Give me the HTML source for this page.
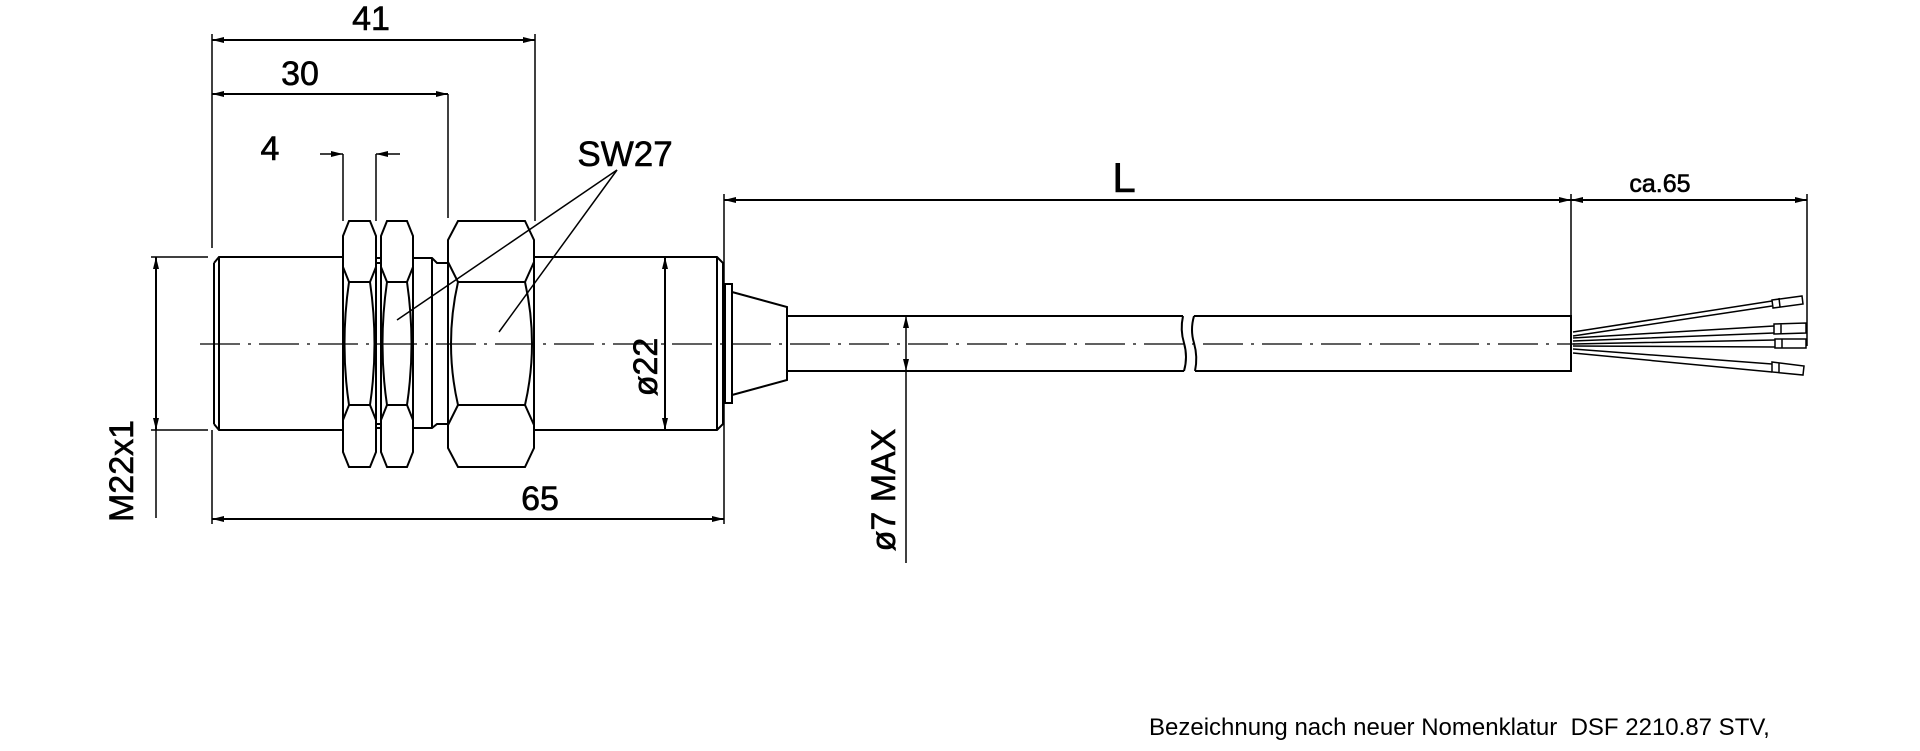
<!DOCTYPE html>
<html><head><meta charset="utf-8"><style>
html,body{margin:0;padding:0;background:#fff;}
svg{display:block;}
text{font-family:"Liberation Sans",sans-serif;fill:#000;}
</style></head><body>
<svg width="1920" height="751" viewBox="0 0 1920 751" xmlns="http://www.w3.org/2000/svg">
<defs>
<marker id="a" viewBox="0 0 12 6" refX="12" refY="3" markerWidth="13" markerHeight="6" orient="auto-start-reverse" markerUnits="userSpaceOnUse"><path d="M0,0 L12,3 L0,6 Z" fill="#000"/></marker>
</defs>
<g stroke="#000" stroke-width="2" fill="none">
<line x1="200" y1="344" x2="1575" y2="344" stroke-width="1.3" stroke-dasharray="40,8,3,8"/>
<line x1="212" y1="40" x2="535" y2="40" marker-start="url(#a)" marker-end="url(#a)"/>
<line x1="212" y1="34" x2="212" y2="248" stroke-width="1.5"/>
<line x1="535" y1="34" x2="535" y2="221" stroke-width="1.5"/>
<line x1="212" y1="94" x2="448" y2="94" marker-start="url(#a)" marker-end="url(#a)"/>
<line x1="448" y1="94" x2="448" y2="218" stroke-width="1.5"/>
<line x1="320" y1="154" x2="343" y2="154" marker-end="url(#a)" stroke-width="1.5"/>
<line x1="400" y1="154" x2="376" y2="154" marker-end="url(#a)" stroke-width="1.5"/>
<line x1="343" y1="154" x2="343" y2="221" stroke-width="1.5"/>
<line x1="376" y1="154" x2="376" y2="221" stroke-width="1.5"/>
<line x1="151" y1="257" x2="208" y2="257" stroke-width="1.5"/>
<line x1="151" y1="430" x2="208" y2="430" stroke-width="1.5"/>
<line x1="156" y1="257" x2="156" y2="430" marker-start="url(#a)" marker-end="url(#a)"/>
<line x1="156" y1="430" x2="156" y2="518" stroke-width="1.5"/>
<path d="M214,263 L219,257 L343,257 M214,424 L219,430 L343,430 M214,263 L214,424 M219,257 L219,430"/>
<path d="M376,258 L381,258 M376,428 L381,428 M413,258 L432,258 L437,263 L448,263 M413,428 L432,428 L437,424 L448,424 M432,258 L432,428 M376,263 L381,263 M376,424 L381,424"/>
<path d="M349,221 L370,221 L376,236 L376,267 L370,282 L349,282 L343,267 L343,236 Z"/>
<path d="M349,405 L370,405 L376,420 L376,452 L370,467 L349,467 L343,452 L343,420 Z"/>
<path d="M349,282 Q340,344 349,405 M370,282 Q379,344 370,405"/>
<line x1="343" y1="236" x2="343" y2="452"/><line x1="376" y1="236" x2="376" y2="452"/>
<path d="M387,221 L407,221 L413,236 L413,267 L407,282 L387,282 L381,267 L381,236 Z"/>
<path d="M387,405 L407,405 L413,420 L413,452 L407,467 L387,467 L381,452 L381,420 Z"/>
<path d="M387,282 Q378,344 387,405 M407,282 Q416,344 407,405"/>
<line x1="381" y1="236" x2="381" y2="452"/><line x1="413" y1="236" x2="413" y2="452"/>
<path d="M458,221 L525,221 L534,240 L534,262 L525,282 L458,282 L448,262 L448,240 Z"/>
<path d="M458,405 L525,405 L534,425 L534,448 L525,467 L458,467 L448,448 L448,425 Z"/>
<path d="M458,282 Q444,344 458,405 M525,282 Q539,344 525,405"/>
<line x1="448" y1="240" x2="448" y2="448"/><line x1="534" y1="240" x2="534" y2="448"/>
<path d="M534,257 L717,257 L723,263 L723,424 L717,430 L534,430 M717,257 L717,430"/>
<line x1="665" y1="257" x2="665" y2="430" marker-start="url(#a)" marker-end="url(#a)"/>
<line x1="617" y1="170" x2="397" y2="320" stroke-width="1.5"/>
<line x1="617" y1="170" x2="499" y2="332" stroke-width="1.5"/>
<rect x="725" y="284" width="7" height="119"/>
<path d="M732,292 L787,307 L787,380 L732,395"/>
<path d="M787,316 L1183,316 M787,371 L1184,371 M1194,316 L1571,316 L1571,371 L1195,371"/>
<path d="M1183,316 Q1180,330 1184,343 Q1188,357 1184,371 M1194,316 Q1190,330 1194,343 Q1198,357 1195,371"/>
<line x1="724" y1="194" x2="724" y2="524" stroke-width="1.5"/>
<line x1="212" y1="430" x2="212" y2="524" stroke-width="1.5"/>
<line x1="212" y1="519" x2="724" y2="519" marker-start="url(#a)" marker-end="url(#a)"/>
<line x1="724" y1="200" x2="1571" y2="200" marker-start="url(#a)" marker-end="url(#a)"/>
<line x1="1571" y1="194" x2="1571" y2="316" stroke-width="1.5"/>
<line x1="1571" y1="200" x2="1807" y2="200" marker-start="url(#a)" marker-end="url(#a)"/>
<line x1="1807" y1="194" x2="1807" y2="346" stroke-width="1.5"/>
<line x1="906" y1="316" x2="906" y2="371" marker-start="url(#a)" marker-end="url(#a)" stroke-width="1.5"/>
<line x1="906" y1="371" x2="906" y2="563" stroke-width="1.5"/>
<g stroke-width="1.5">
<path d="M1573,332 L1772,301 M1573,336 L1772,306"/>
<path d="M1573,338 L1774,326 M1573,341 L1774,333"/>
<path d="M1573,344 L1775,340 M1573,346 L1775,347"/>
<path d="M1573,349 L1772,364 M1573,353 L1772,372"/>
<path d="M1772,300 L1802,296 L1803,304 L1773,308 Z M1779,298 L1780,307"/>
<path d="M1774,324 L1806,323 L1806,333 L1774,334 Z M1781,324 L1781,334"/>
<path d="M1775,339 L1806,339 L1806,348 L1775,348 Z M1782,339 L1782,348"/>
<path d="M1772,362 L1804,366 L1803,375 L1772,372 Z M1779,363 L1779,373"/>
</g>
</g>
<g stroke="#000" stroke-width="0.6">
<text x="371" y="30" font-size="34" text-anchor="middle">41</text>
<text x="300" y="85" font-size="34" text-anchor="middle">30</text>
<text x="270" y="160" font-size="34" text-anchor="middle">4</text>
<text x="625" y="166" font-size="35" text-anchor="middle">SW27</text>
<text x="1124" y="192" font-size="42" text-anchor="middle">L</text>
<text x="1660" y="192" font-size="25" text-anchor="middle">ca.65</text>
<text x="540" y="510" font-size="34" text-anchor="middle">65</text>
<text transform="translate(657,367) rotate(-90)" font-size="34" text-anchor="middle">ø22</text>
<text transform="translate(133,471) rotate(-90)" font-size="34" text-anchor="middle">M22x1</text>
<text transform="translate(895,490) rotate(-90)" font-size="34" text-anchor="middle">ø7 MAX</text>
</g>
<text x="1149" y="735" font-size="24" xml:space="preserve">Bezeichnung nach neuer Nomenklatur  DSF 2210.87 STV,</text>
</svg>
</body></html>
